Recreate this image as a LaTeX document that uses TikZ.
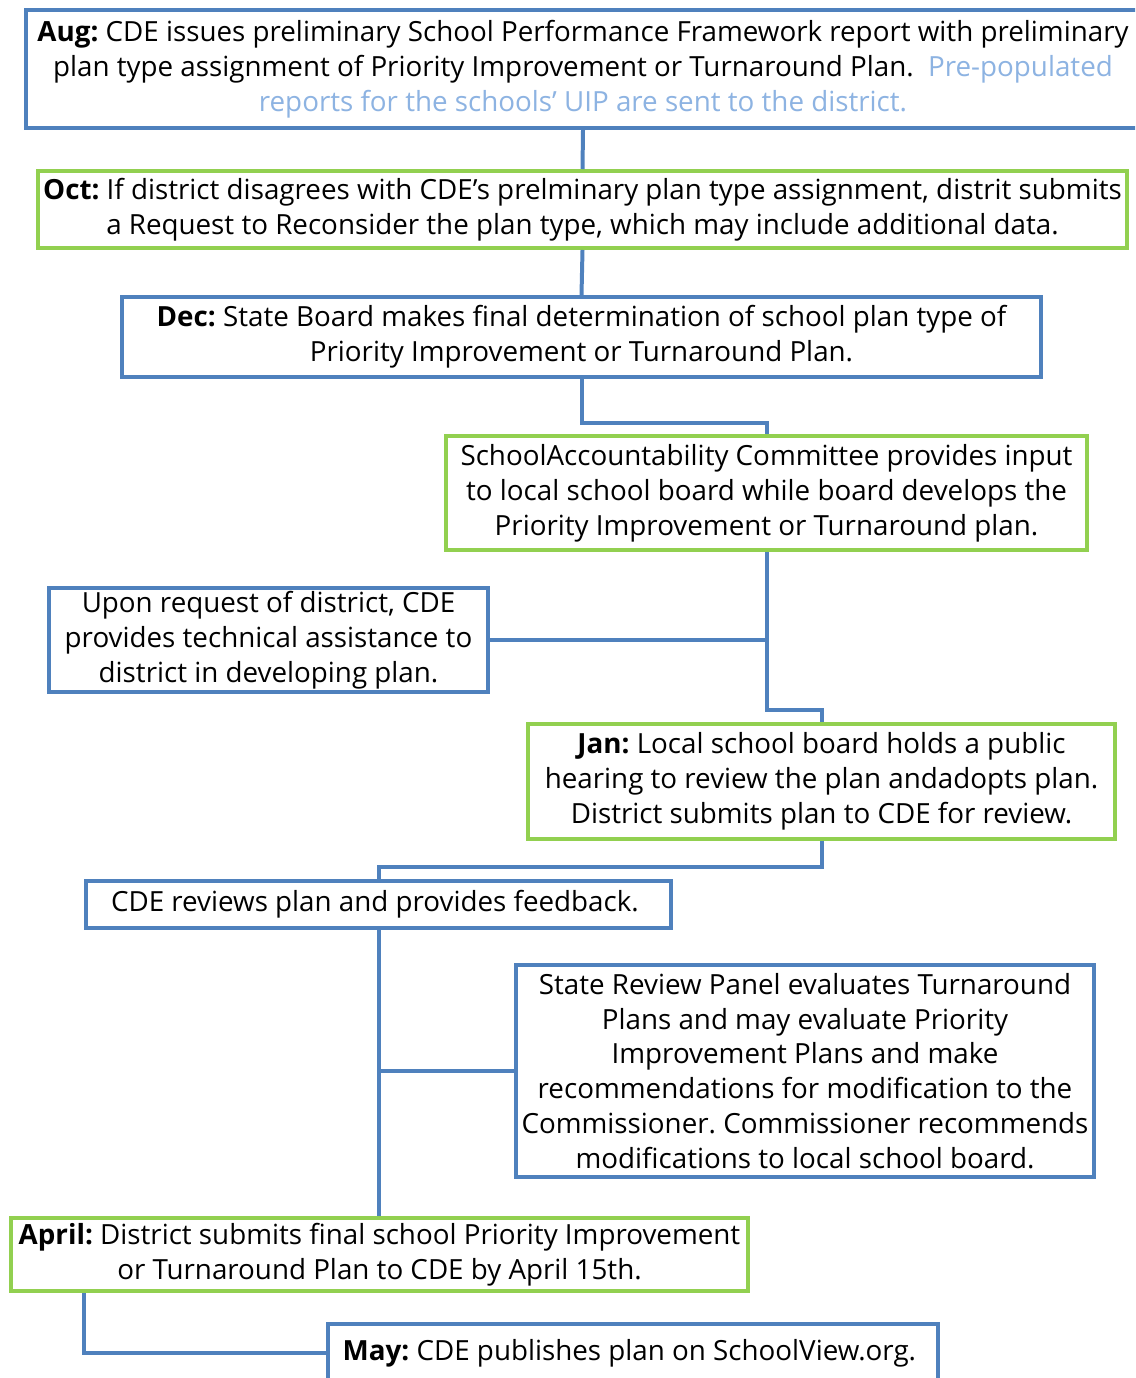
\documentclass[tikz,border=0pt]{standalone}
\usepackage{fontspec}
\setmainfont{Open Sans}
\usepackage{xcolor}
\usetikzlibrary{positioning,calc}

\definecolor{boxblue}{HTML}{4F81BD}
\definecolor{boxgreen}{HTML}{92D050}
\definecolor{noteblue}{HTML}{8DB3E2}
\frenchspacing

\begin{document}
\begin{tikzpicture}[
			x=0.02cm, y=-0.02cm,
			font=\fontsize{15.8}{19.8}\selectfont,
			bluebox/.style={draw=boxblue, line width=2.27pt, fill=white, align=center, inner sep=0pt},
			greenbox/.style={draw=boxgreen, line width=2.27pt, fill=white, align=center, inner sep=0pt},
			link/.style={draw=boxblue, line width=2.27pt}
			]
			
			% Page frame
			\useasboundingbox (0,0) rectangle (1135,1378);
			\clip (0,0) rectangle (1135,1378);
			
			% Autumn steps
			\node[bluebox, minimum width=22.28cm, minimum height=2.36cm] (aug) at (583,69) {
				\textbf{Aug:} CDE issues preliminary School Performance Framework report with preliminary\\
				plan type assignment of Priority Improvement or Turnaround Plan.\ \ {\color{noteblue}Pre-populated}\\
				{\color{noteblue}reports for the schools' UIP are sent to the district.}
			};
			\node[greenbox, minimum width=21.78cm, minimum height=1.54cm] (oct) at (582.5,209.5) {
				\textbf{Oct:} If district disagrees with CDE's prelminary plan type assignment, distrit submits\\
				a Request to Reconsider the plan type, which may include additional data.
			};
			\node[bluebox, minimum width=18.38cm, minimum height=1.60cm] (dec) at (581.5,337) {
				\textbf{Dec:} State Board makes final determination of school plan type of\\
				Priority Improvement or Turnaround Plan.
			};
			
			% Plan development
			\node[greenbox, minimum width=12.82cm, minimum height=2.28cm] (sac) at (766.5,493) {
				SchoolAccountability Committee provides input\\
				to local school board while board develops the\\
				Priority Improvement or Turnaround plan.
			};
			\node[bluebox, minimum width=8.78cm, minimum height=2.08cm] (help) at (268.5,640) {
				Upon request of district, CDE\\
				provides technical assistance to\\
				district in developing plan.
			};
			\node[greenbox, minimum width=11.74cm, minimum height=2.30cm] (jan) at (821.5,781.5) {
				\textbf{Jan:} Local school board holds a public\\
				hearing to review the plan andadopts plan.\\
				District submits plan to CDE for review.
			};
			
			% Review
			\node[bluebox, minimum width=11.70cm, minimum height=0.94cm] (review) at (378.5,904.5) {
				CDE reviews plan and provides feedback.
			};
			\node[bluebox, minimum width=11.56cm, minimum height=4.24cm] (panel) at (805,1071) {
				State Review Panel evaluates Turnaround\\
				Plans and may evaluate Priority\\
				Improvement Plans and make\\
				recommendations for modification to the\\
				Commissioner. Commissioner recommends\\
				modifications to local school board.
			};
			
			% Spring steps
			\node[greenbox, minimum width=14.74cm, minimum height=1.46cm] (april) at (379.5,1254.5) {
				\textbf{April:} District submits final school Priority Improvement\\
				or Turnaround Plan to CDE by April 15th.
			};
			\node[bluebox, minimum width=12.20cm, minimum height=1.16cm] (may) at (633,1353) {
				\textbf{May:} CDE publishes plan on SchoolView.org.
			};
			
			% Connectors
			\draw[link] (aug.south) -- (oct.north);
			\draw[link] (oct.south) -- (dec.north);
			\draw[link] (dec.south) -- ++(0,44) -| (sac.north);
			\draw[link] (sac.south) -- ++(0,158) -| (jan.north);
			\draw[link] (help.east) -- (help.east -| sac.south);
			\draw[link] (jan.south) -- ++(0,26) -| (review.north);
			\draw[link] (review.south) -- (review.south |- april.north);
			\draw[link] (panel.west) -- (panel.west -| review.south);
			\draw[link] ([xshift=1.5cm]april.south west) |- (may.west);
			
		\end{tikzpicture}
\end{document}
